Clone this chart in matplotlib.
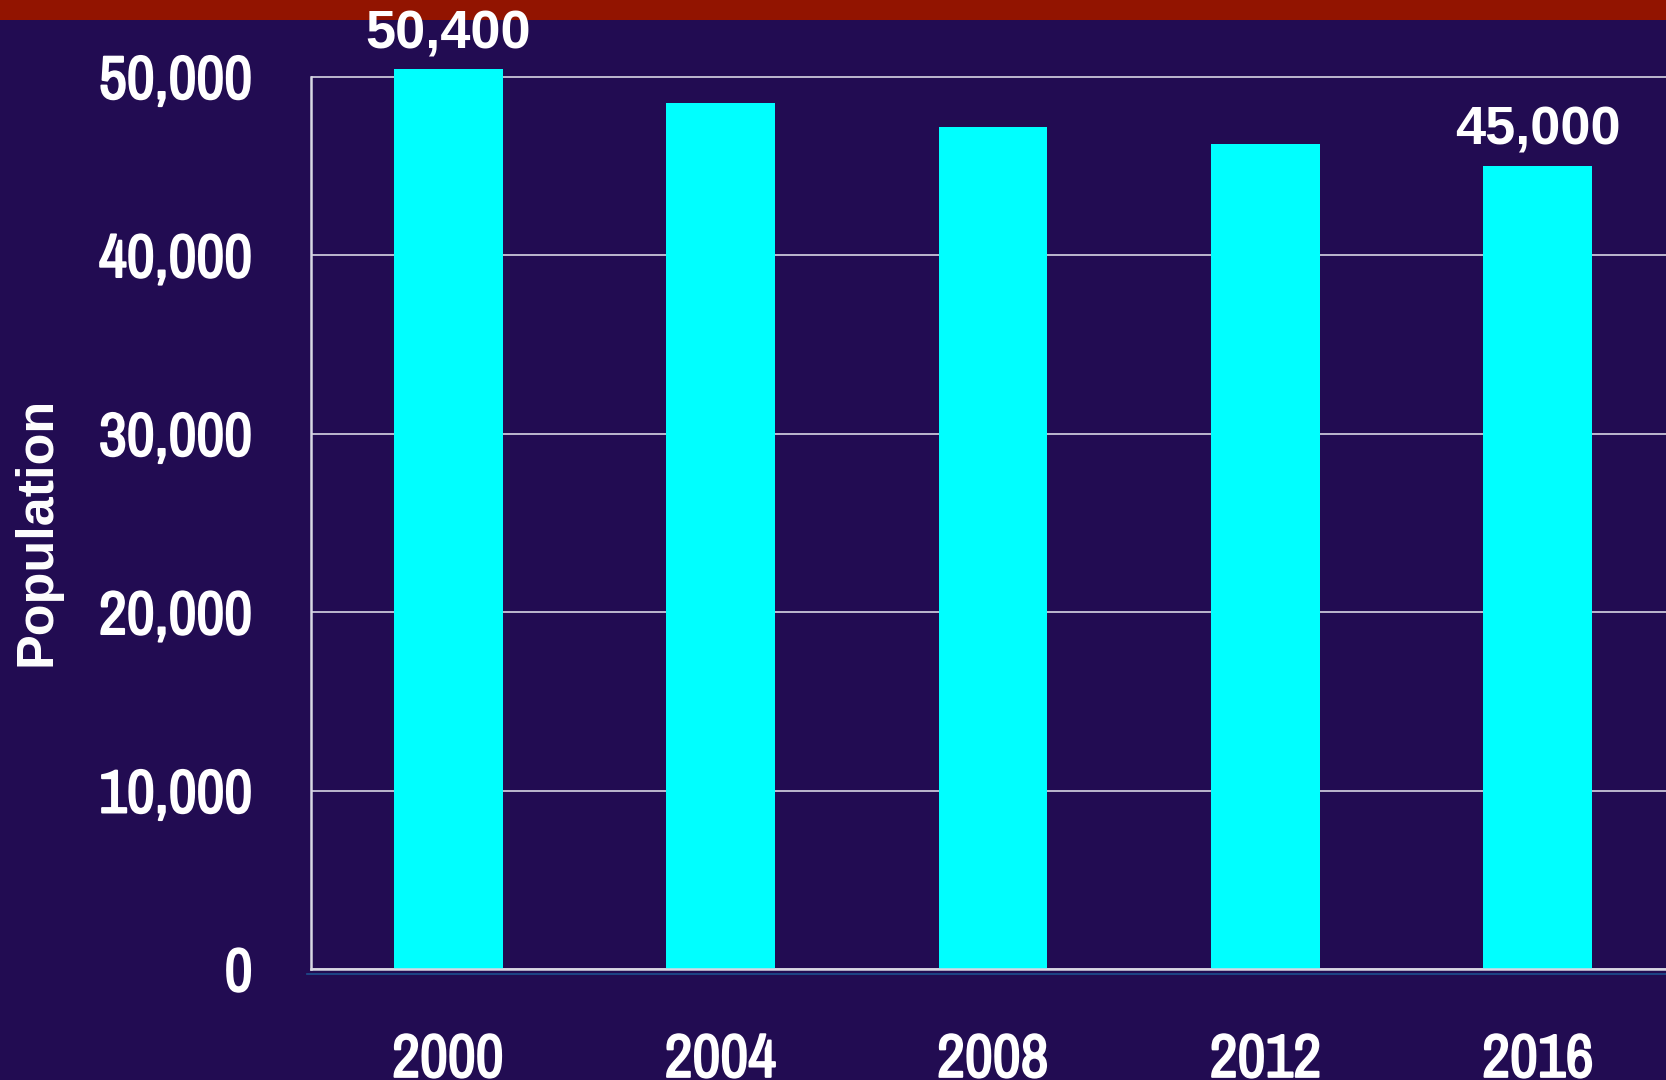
import numpy as np
import matplotlib.pyplot as plt
import matplotlib.patheffects as pe
from matplotlib.patches import Rectangle
from matplotlib.ticker import FuncFormatter
from matplotlib.transforms import ScaledTranslation

years = ['2000', '2004', '2008', '2012', '2016']
population = [50400, 48500, 47200, 46200, 45000]
labelled = {0: '50,400', 4: '45,000'}
yticks = [0, 10000, 20000, 30000, 40000, 50000]

bg = '#220c52'
narrow = ['Liberation Sans Narrow', 'Arial Narrow', 'Archivo Narrow', 'Liberation Sans']
wide = ['Liberation Sans', 'DejaVu Sans']

fig = plt.figure(figsize=(16.66, 10.8), dpi=100, facecolor=bg)
# red band across the top
fig.patches.append(Rectangle((0, 1 - 20 / 1080), 1, 20 / 1080, transform=fig.transFigure,
                             facecolor='#921400', edgecolor='none', zorder=-5))

ax = fig.add_axes([311 / 1666, 111 / 1080, 1 - 311 / 1666, 0.8759])
ax.set_facecolor(bg)

x = np.arange(len(years))
ax.bar(x, population, width=0.4, color='#00ffff', zorder=3)

ax.set_xlim(-0.503, 4.47)
ax.set_ylim(0, 53000)
ax.set_yticks(yticks)
ax.yaxis.set_major_formatter(FuncFormatter(lambda v, p: f'{int(v):,}'))
ax.set_xticks(x)
ax.set_xticklabels(years)

ax.grid(axis='y', color='#e6e6f0', linewidth=1.1, zorder=1)
ax.grid(axis='x', visible=False)

for s in ['top', 'right']:
    ax.spines[s].set_visible(False)
for s in ['left', 'bottom']:
    ax.spines[s].set_color('#d8d8e4')
    ax.spines[s].set_linewidth(1.8)
ax.spines['left'].set_bounds(0, 50000)
ax.spines['bottom'].set_zorder(4)

# faint shadow line just under the floor
shadow = ax.transAxes + ScaledTranslation(0, -5 / 100, fig.dpi_scale_trans)
ax.plot([-0.003, 1], [0, 0], transform=shadow, color='#1d4f8f', lw=1.2, clip_on=False)

ax.tick_params(axis='both', length=0, colors='white')
ax.tick_params(axis='y', pad=42)
ax.tick_params(axis='x', pad=46)
# narrow face has no bold here, so thicken it a little
bold = [pe.withStroke(linewidth=1.4, foreground='white')]
for lab in ax.get_yticklabels() + ax.get_xticklabels():
    lab.set_family(narrow)
    lab.set_fontweight('bold')
    lab.set_fontsize(44)
    lab.set_color('white')
    lab.set_path_effects(bold)

for i, txt in labelled.items():
    ax.annotate(txt, (x[i], population[i]), xytext=(0, 15), textcoords='offset points',
                ha='center', va='baseline', fontsize=39, fontweight='bold',
                family=wide, color='white', annotation_clip=False, zorder=6)

fig.text(37 / 1666, 1 - 531 / 1080, 'Population', rotation=90, ha='center', va='center',
         fontsize=37.5, fontweight='bold', family=wide, color='white')

fig.savefig('out.png', dpi=100, facecolor=bg)
